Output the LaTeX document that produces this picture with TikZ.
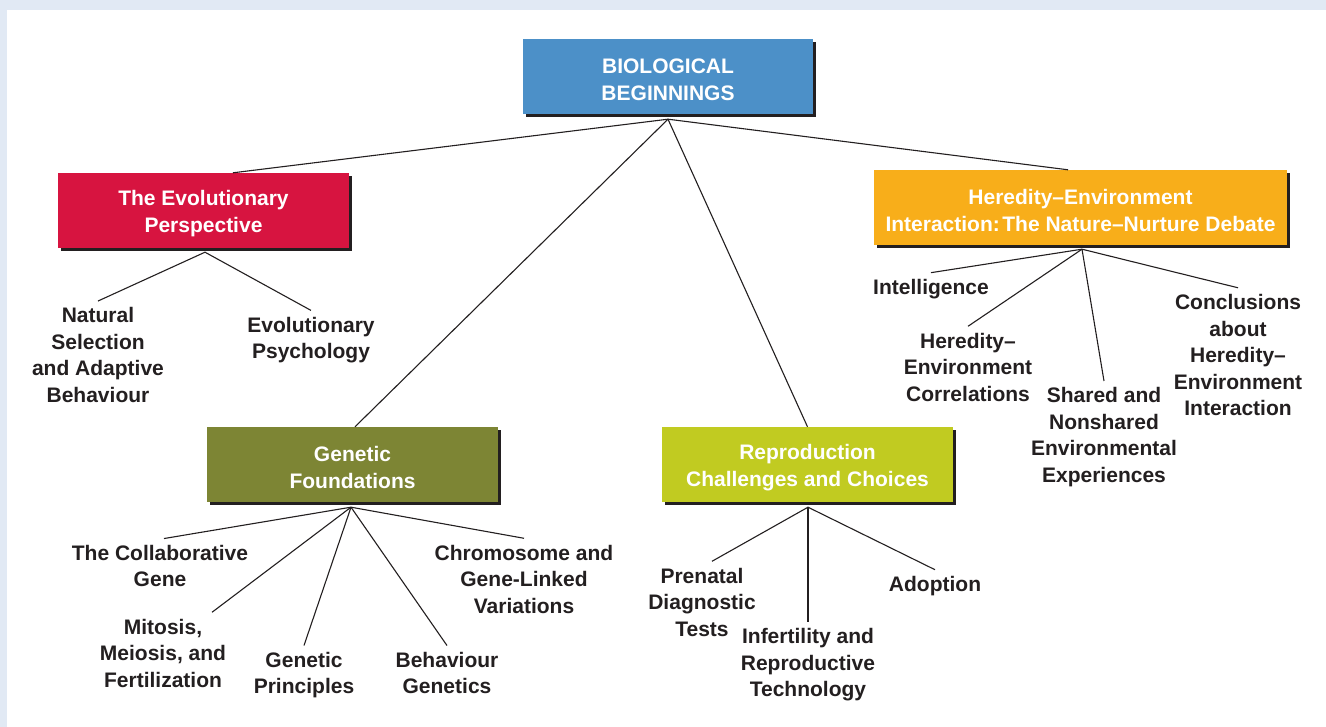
\documentclass[tikz,border=0pt]{standalone}
\usepackage{fontspec}
\setmainfont{Liberation Sans}
\usetikzlibrary{calc,shadows}
\definecolor{bgblue}{RGB}{225,233,244}
\definecolor{rootc}{RGB}{76,144,200}
\definecolor{evoc}{RGB}{215,20,64}
\definecolor{herc}{RGB}{248,174,26}
\definecolor{genc}{RGB}{125,133,52}
\definecolor{repc}{RGB}{193,203,33}
\definecolor{darktext}{RGB}{35,31,32}
\newcommand{\topstrut}{\rule{0pt}{21pt}}
\begin{document}
\begin{tikzpicture}[x=1pt,y=-1pt,
  catbox/.style={rectangle, minimum height=75pt, inner sep=0pt, align=center,
    text=white, font=\bfseries\fontsize{21}{26.5}\selectfont,
    drop shadow={shadow xshift=3pt, shadow yshift=-3pt, fill=darktext, opacity=1}},
  leaf/.style={align=center, inner sep=0pt, outer sep=6.5pt, text=darktext,
    font=\bfseries\fontsize{21}{26.5}\selectfont},
  conn/.style={draw=darktext, line width=1.1pt}]
\useasboundingbox (0,0) rectangle (1326,727);
\fill[bgblue] (0,0) rectangle (1326,727);
\fill[white] (7,10) rectangle (1326,727);

% category boxes
\node[catbox, minimum width=290pt, fill=rootc] (root) at (668,76.5) {\topstrut BIOLOGICAL\\BEGINNINGS};
\node[catbox, minimum width=291pt, fill=evoc] (evo) at (203.5,210.5) {\topstrut The Evolutionary\\Perspective};
\node[catbox, minimum width=413pt, fill=herc] (hered) at (1080.5,207.5) {\topstrut Heredity–Environment\\Interaction:\hspace{0.12em}The Nature–Nurture Debate};
\node[catbox, minimum width=291pt, fill=genc] (gen) at (352.5,464.5) {\topstrut Genetic\\Foundations};
\node[catbox, minimum width=291pt, fill=repc] (rep) at (807.5,464.5) {\topstrut Reproduction\\Challenges and Choices};

% hubs
\coordinate (rootHub) at ($(root.south)+(0,5)$);
\coordinate (evoHub) at ($(evo.south)+(1.5,4)$);
\coordinate (herHub) at ($(hered.south)+(1.5,4)$);
\coordinate (genHub) at ($(gen.south)+(-1.5,5)$);
\coordinate (repHub) at ($(rep.south)+(0.5,5)$);

% leaves
\node[leaf] (natsel) at (98,355) {Natural\\Selection\\and Adaptive\\Behaviour};
\node[leaf] (evopsy) at (311,340) {Evolutionary\\Psychology};
\node[leaf] (collab) at (160,566) {The Collaborative\\Gene};
\node[leaf] (mitosis) at (163,653) {Mitosis,\\Meiosis, and\\Fertilization};
\node[leaf] (genprin) at (304,675) {Genetic\\Principles};
\node[leaf] (behgen) at (447,673) {Behaviour\\Genetics};
\node[leaf] (chromo) at (524,579) {Chromosome and\\Gene-Linked\\Variations};
\node[leaf] (prenatal) at (702,602) {Prenatal\\Diagnostic\\Tests};
\node[leaf] (infert) at (808,665) {Infertility and\\Reproductive\\Technology};
\node[leaf] (adoption) at (935,586) {Adoption};
\node[leaf] (intel) at (931,289) {Intelligence};
\node[leaf] (hecorr) at (968,367) {Heredity–\\Environment\\Correlations};
\node[leaf] (shared) at (1104,437) {Shared and\\Nonshared\\Environmental\\Experiences};
\node[leaf] (concl) at (1238,355) {Conclusions\\about\\Heredity–\\Environment\\Interaction};

% connectors from root
\draw[conn] (rootHub) -- ($(evo.north)+(29.5,0)$);
\draw[conn] (rootHub) -- ($(hered.north)+(-12.5,0)$);
\draw[conn] (rootHub) -- ($(gen.north)+(2.5,0)$);
\draw[conn] (rootHub) -- (rep.north);

% evolutionary
\draw[conn] (evoHub) -- (natsel.north);
\draw[conn] (evoHub) -- (evopsy.north);

% heredity
\draw[conn] (herHub) -- (intel.north);
\draw[conn] (herHub) -- (hecorr.north);
\draw[conn] (herHub) -- (shared.north);
\draw[conn] (herHub) -- (concl.north);

% genetic
\draw[conn] (genHub) -- ($(collab.north)+(4,0)$);
\draw[conn] (genHub) -- ($(mitosis.north)+(49,0)$);
\draw[conn] (genHub) -- (genprin.north);
\draw[conn] (genHub) -- (behgen.north);
\draw[conn] (genHub) -- (chromo.north);

% reproduction
\draw[conn] (repHub) -- ($(prenatal.north)+(10,0)$);
\draw[conn] (repHub) -- (infert.north);
\draw[conn] (repHub) -- (adoption.north);
\end{tikzpicture}
\end{document}
